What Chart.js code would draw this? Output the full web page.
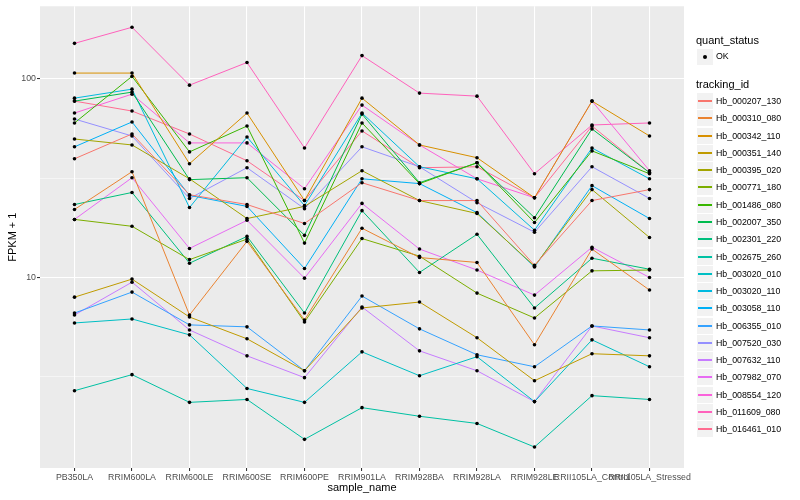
<!DOCTYPE html>
<html>
<head>
<meta charset="utf-8">
<script src="https://cdn.jsdelivr.net/npm/chart.js@4.4.1/dist/chart.umd.min.js"></script>
<style>
  body { margin: 0; background: #fff; }
  #wrap { position: relative; width: 800px; height: 500px; font-family: "Liberation Sans", Arial, sans-serif; }
  .ltitle { position: absolute; left: 696px; height: 17px; line-height: 17px; font-size: 11px; color: #000; white-space: nowrap; }
  .key { position: absolute; left: 697px; width: 16px; height: 16px; background: #F2F2F2; }
  .key .ln { position: absolute; left: 1px; right: 1px; top: 7px; height: 2px; }
  .key .dot { position: absolute; left: 6px; top: 6px; width: 4px; height: 4px; border-radius: 2px; background: #000; }
  .lab { position: absolute; left: 716px; height: 17px; line-height: 17px; font-size: 8.8px; color: #000; white-space: nowrap; }
</style>
</head>
<body>
<div id="wrap">
  <canvas id="chart" width="800" height="500"></canvas>
</div>
<script>
// Categorías del eje x
const sampleNames = ['PB350LA', 'RRIM600LA', 'RRIM600LE', 'RRIM600SE', 'RRIM600PE', 'RRIM901LA',
  'RRIM928BA', 'RRIM928LA', 'RRIM928LE', 'RRII105LA_Control', 'RRII105LA_Stressed'];

const trackingIds = ['Hb_000207_130', 'Hb_000310_080', 'Hb_000342_110', 'Hb_000351_140', 'Hb_000395_020',
  'Hb_000771_180', 'Hb_001486_080', 'Hb_002007_350', 'Hb_002301_220', 'Hb_002675_260',
  'Hb_003020_010', 'Hb_003020_110', 'Hb_003058_110', 'Hb_006355_010', 'Hb_007520_030',
  'Hb_007632_110', 'Hb_007982_070', 'Hb_008554_120', 'Hb_011609_080', 'Hb_016461_010'];

const lineColors = ['#F8766D', '#EA8331', '#D89000', '#C09B00', '#A3A500', '#7CAE00', '#39B600', '#00BB4E',
  '#00BF7D', '#00C1A3', '#00BFC4', '#00BAE0', '#00B0F6', '#35A2FF', '#9590FF', '#C77CFF',
  '#E76BF3', '#FA62DB', '#FF62BC', '#FF6C91'];

// FPKM + 1 por gen (mismo orden que sampleNames)
const hb_000207_130 = [39.6, 52.8, 26.1, 23.3, 18.7, 30.0, 24.4, 24.4, 11.5, 24.4, 27.7];
const hb_000310_080 = [22.0, 34.1, 6.47, 15.2, 6.11, 17.7, 12.6, 11.9, 4.58, 13.9, 8.64];
const hb_000342_110 = [107, 107, 37.4, 67.3, 24.4, 80.0, 46.5, 40.1, 25.2, 77.3, 51.6];
const hb_000351_140 = [7.96, 9.81, 6.32, 4.91, 3.39, 7.02, 7.52, 4.97, 3.02, 4.13, 4.03];
const hb_000395_020 = [49.8, 46.5, 31.4, 19.8, 22.8, 34.5, 24.4, 21.0, 11.4, 27.7, 15.9];
const hb_000771_180 = [19.6, 18.1, 12.3, 15.6, 5.97, 15.7, 12.8, 8.34, 6.25, 10.8, 10.9];
const hb_001486_080 = [60.0, 103, 42.9, 57.9, 14.9, 60.0, 29.7, 37.8, 18.9, 43.4, 33.3];
const hb_002007_350 = [77.3, 85.8, 31.1, 31.8, 16.3, 66.5, 30.0, 37.8, 20.0, 56.0, 33.7];
const hb_002301_220 = [23.3, 26.8, 11.8, 16.1, 6.62, 21.7, 10.6, 16.5, 7.02, 12.5, 11.0];
const hb_002675_260 = [2.69, 3.24, 2.35, 2.43, 1.53, 2.21, 2.00, 1.84, 1.40, 2.54, 2.43];
const hb_003020_010 = [5.90, 6.18, 5.14, 2.76, 2.35, 4.22, 3.20, 3.99, 2.37, 4.85, 3.55];
const hb_003020_110 = [80.0, 88.8, 22.5, 51.0, 23.0, 67.3, 36.1, 31.4, 17.3, 44.9, 31.4];
const hb_003058_110 = [45.5, 60.7, 25.9, 22.8, 11.1, 31.4, 29.7, 21.2, 11.3, 29.0, 19.8];
const hb_006355_010 = [6.62, 8.44, 5.77, 5.64, 3.39, 8.06, 5.51, 4.08, 3.55, 5.70, 5.44];
const hb_007520_030 = [62.8, 51.6, 25.0, 35.7, 22.2, 45.5, 36.1, 23.8, 16.9, 36.1, 25.0];
const hb_007632_110 = [6.47, 9.47, 5.44, 4.03, 3.13, 7.10, 4.27, 3.39, 2.37, 5.70, 4.97];
const hb_007982_070 = [19.6, 31.8, 14.0, 19.4, 9.92, 23.6, 13.9, 10.9, 8.15, 14.2, 10.0];
const hb_008554_120 = [67.3, 83.8, 47.6, 47.6, 28.0, 73.8, 46.5, 31.4, 25.2, 77.3, 34.5];
const hb_011609_080 = [151, 182, 93.0, 121, 44.9, 131, 84.8, 81.9, 33.3, 58.6, 60.0];
const hb_016461_010 = [77.3, 68.9, 52.8, 38.7, 24.4, 54.7, 35.7, 36.1, 25.2, 57.9, 33.7];

const seriesValues = [hb_000207_130, hb_000310_080, hb_000342_110, hb_000351_140, hb_000395_020,
  hb_000771_180, hb_001486_080, hb_002007_350, hb_002301_220, hb_002675_260,
  hb_003020_010, hb_003020_110, hb_003058_110, hb_006355_010, hb_007520_030,
  hb_007632_110, hb_007982_070, hb_008554_120, hb_011609_080, hb_016461_010];

// Etiquetas del eje y y cortes menores (log10)
const yTickLabels = [10, 100];
const yMinorBreaks = [3.1623, 31.623];

/* ========= LÍMITES DEL EJE Y (expansión 5% como ggplot) ========= */
const allLogs = seriesValues.flat().map(v => Math.log10(v));
const logMin = Math.min(...allLogs);
const logMax = Math.max(...allLogs);
const logPad = (logMax - logMin) * 0.05;

/* ========= DATASETS ========= */
const toPoints = vals => vals.map((v, i) => ({ x: i, y: v }));

const lineSets = seriesValues.map((vals, k) => ({
  label: trackingIds[k],
  data: toPoints(vals),
  borderColor: lineColors[k],
  borderWidth: 1,
  pointRadius: 0,
  tension: 0,
  order: 2
}));

const pointSets = seriesValues.map((vals, k) => ({
  label: trackingIds[k] + ' OK',
  data: toPoints(vals),
  showLine: false,
  pointRadius: 1.8,
  pointBackgroundColor: '#000000',
  pointBorderWidth: 0,
  order: 1
}));

// Fondo gris del panel
const panelBg = {
  id: 'panelBg',
  beforeDraw(chart) {
    const { ctx, chartArea: a } = chart;
    ctx.save();
    ctx.fillStyle = '#EBEBEB';
    ctx.fillRect(a.left, a.top, a.right - a.left, a.bottom - a.top);
    ctx.restore();
  }
};

const isMajor = v => yTickLabels.some(t => Math.abs(t - v) < 1e-6);

Chart.defaults.font.family = '"Liberation Sans", Arial, sans-serif';

new Chart(document.getElementById('chart'), {
  type: 'line',
  data: { datasets: [...lineSets, ...pointSets] },
  options: {
    responsive: false,
    animation: false,
    layout: { padding: { left: 4, right: 116, top: 5, bottom: 4 } },
    plugins: { legend: { display: false }, tooltip: { enabled: false } },
    scales: {
      x: {
        type: 'linear',
        min: -0.6,
        max: sampleNames.length - 1 + 0.6,
        afterBuildTicks: s => { s.ticks = sampleNames.map((_, i) => ({ value: i })); },
        afterFit: s => { s.height = 28; },
        ticks: {
          callback: v => sampleNames[v],
          autoSkip: false, maxRotation: 0, minRotation: 0,
          color: '#4D4D4D', font: { size: 8.8 }, padding: 1
        },
        grid: { color: '#FFFFFF', lineWidth: 1.07, tickLength: 3, tickColor: '#333333' },
        border: { display: false },
        title: { display: true, text: 'sample_name', color: '#000000', font: { size: 11 }, padding: { top: 0, bottom: 1 } }
      },
      y: {
        type: 'logarithmic',
        min: Math.pow(10, logMin - logPad),
        max: Math.pow(10, logMax + logPad),
        afterBuildTicks: s => {
          s.ticks = [...yMinorBreaks, ...yTickLabels].sort((a, b) => a - b).map(v => ({ value: v }));
        },
        afterFit: s => { s.width = 36; },
        ticks: {
          callback: v => (isMajor(v) ? String(v) : ''),
          autoSkip: false, color: '#4D4D4D', font: { size: 8.8 }, padding: 1
        },
        grid: {
          color: '#FFFFFF',
          lineWidth: c => (c.tick && isMajor(c.tick.value) ? 1.07 : 0.53),
          tickLength: 3,
          tickColor: c => (c.tick && isMajor(c.tick.value) ? '#333333' : 'rgba(0,0,0,0)')
        },
        border: { display: false },
        title: { display: true, text: 'FPKM + 1', color: '#000000', font: { size: 11 }, padding: { top: 2, bottom: 0 } }
      }
    }
  },
  plugins: [panelBg]
});

/* ========= LEYENDA ========= */
function buildLegend() {
  const wrap = document.getElementById('wrap');
  let html = '<div class="ltitle" style="top:32px">quant_status</div>';
  html += '<div class="key" style="top:49px"><span class="dot"></span></div><div class="lab" style="top:48px">OK</div>';
  html += '<div class="ltitle" style="top:76px">tracking_id</div>';
  trackingIds.forEach((id, i) => {
    const top = Math.round(93 + i * 17.28);
    html += `<div class="key" style="top:${top}px"><span class="ln" style="background:${lineColors[i]}"></span></div>` +
            `<div class="lab" style="top:${top}px">${id}</div>`;
  });
  wrap.insertAdjacentHTML('beforeend', html);
}

buildLegend();
</script>
</body>
</html>
